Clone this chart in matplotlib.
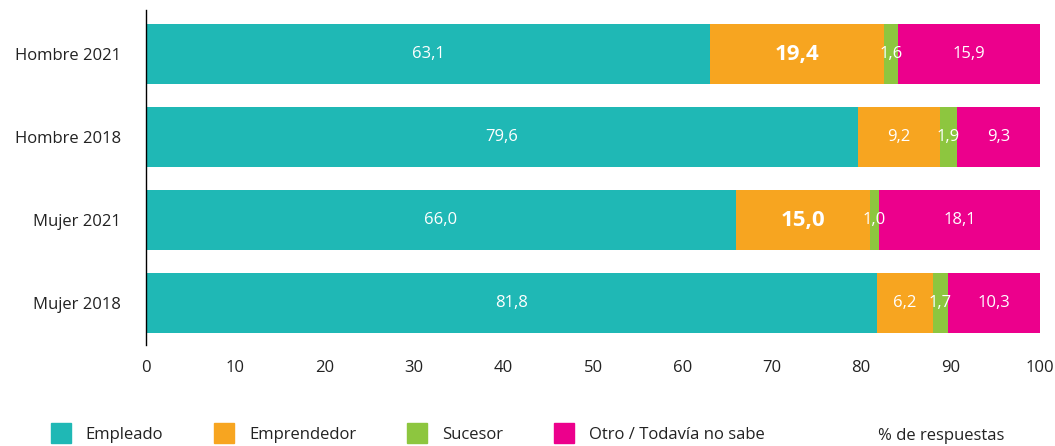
import matplotlib.pyplot as plt
from matplotlib.patches import Patch

plt.rcParams['font.family'] = ['Open Sans', 'DejaVu Sans']

groups = ["Hombre 2021", "Hombre 2018", "Mujer 2021", "Mujer 2018"]
series = ["Empleado", "Emprendedor", "Sucesor", "Otro / Todavía no sabe"]
empleado = [63.1, 79.6, 66.0, 81.8]
emprendedor = [19.4, 9.2, 15.0, 6.2]
sucesor = [1.6, 1.9, 1.0, 1.7]
otro = [15.9, 9.3, 18.1, 10.3]
colors = ["#1FB8B5", "#F7A520", "#8DC63F", "#EC008C"]
bold_values = [19.4, 15.0]

fig = plt.figure(figsize=(10.55, 4.46), dpi=100)
ax = fig.add_axes([0.1384, 0.2265, 0.8474, 0.7511])

y = list(range(len(groups)))
left = [0.0] * len(groups)
for name, vals, col in zip(series, [empleado, emprendedor, sucesor, otro], colors):
    bars = ax.barh(y, vals, left=left, height=0.72, color=col, label=name)
    for b, v, l in zip(bars, vals, left):
        big = name == "Emprendedor" and v in bold_values
        ax.text(l + v / 2, b.get_y() + b.get_height() / 2,
                f"{v:.1f}".replace(".", ","), color="white",
                ha="center", va="center",
                fontsize=16 if big else 12,
                fontweight="bold" if big else "normal")
    left = [a + b for a, b in zip(left, vals)]

ax.set_xlim(0, 100)
ax.set_ylim(3.5, -0.53)
ax.set_yticks(y)
ax.set_yticklabels(groups)
ax.set_xticks(range(0, 101, 10))
ax.tick_params(axis="both", length=0, labelsize=12, colors="#222222")
ax.tick_params(axis="y", pad=18)
ax.tick_params(axis="x", pad=11)
for s in ["top", "right", "bottom"]:
    ax.spines[s].set_visible(False)
ax.spines["left"].set_color("black")
ax.spines["left"].set_linewidth(1)

handles = [Patch(color=c) for c in colors]
fig.legend(handles, series, loc="lower left", bbox_to_anchor=(0.034, -0.028),
           ncol=4, frameon=False, fontsize=12, handlelength=1.2,
           handleheight=1.5, handletextpad=0.9, columnspacing=3.05,
           labelcolor="#222222")
fig.text(0.832, 0.014, "% de respuestas", fontsize=12, color="#222222")

fig.savefig("out.png", dpi=100)
